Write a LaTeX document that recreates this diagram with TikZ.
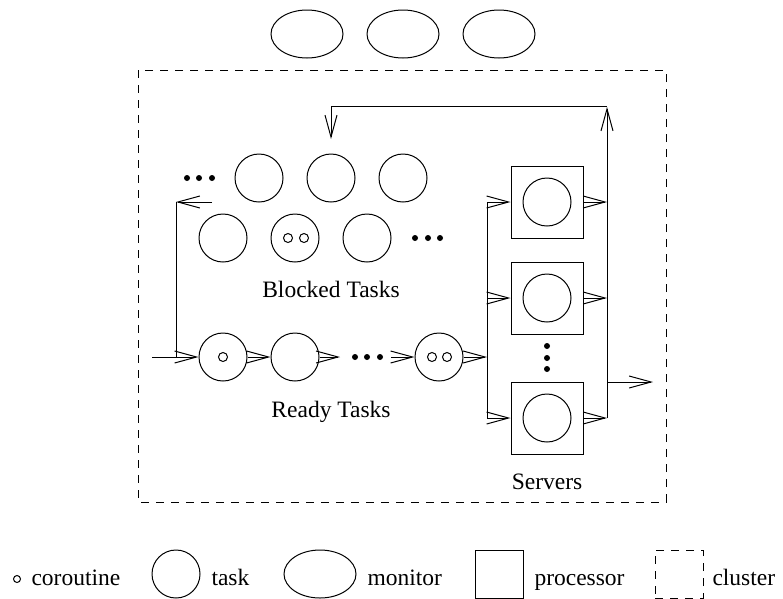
\documentclass[tikz,border=0pt]{standalone}
\usepackage{fontspec}
\setmainfont{Liberation Serif}
\usetikzlibrary{arrows.meta,shapes.geometric}
\begin{document}
\begin{tikzpicture}[x=1pt,y=-1pt,line width=1pt,
  every node/.style={font=\fontsize{23.5}{28}\selectfont},
  task/.style={circle,draw,minimum size=48pt,inner sep=0pt},
  corout/.style={circle,draw,minimum size=9pt,inner sep=0pt},
  monitor/.style={ellipse,draw,minimum width=72pt,minimum height=48pt,inner sep=0pt},
  procbox/.style={rectangle,draw,minimum size=72pt,inner sep=0pt},
  bigdot/.style={circle,fill,minimum size=6pt,inner sep=0pt},
  lbl/.style={inner sep=0pt},
  arr/.style={-{Straight Barb[length=22pt,width=12pt]}},
  cdash/.style={dash pattern=on 8pt off 7pt}
]
\useasboundingbox (0,0) rectangle (783,598);

% monitors
\node[monitor] (m1) at (307,34) {};
\node[monitor] (m2) at (403,34) {};
\node[monitor] (m3) at (499,34) {};

% cluster
\draw[cdash] (138,70) rectangle (666,502);

% blocked tasks
\node[task] (b1) at (259,178) {};
\node[task] (b2) at (331,178) {};
\node[task] (b3) at (403,178) {};
\node[bigdot] (bd1) at (187,178) {};
\node[bigdot] (bd2) at (199,178) {};
\node[bigdot] (bd3) at (212,178) {};
\node[task] (b4) at (223,238) {};
\node[task] (b5) at (295,238) {};
\node[corout] (b5a) at (288,238) {};
\node[corout] (b5b) at (304,238) {};
\node[task] (b6) at (367,238) {};
\node[bigdot] (bd4) at (415,238) {};
\node[bigdot] (bd5) at (428,238) {};
\node[bigdot] (bd6) at (440,238) {};
\node[lbl,anchor=base] (blk) at (331,297) {Blocked Tasks};

% ready tasks
\node[task] (r1) at (223,357) {};
\node[corout] (r1a) at (223,357) {};
\node[task] (r2) at (295,357) {};
\node[bigdot] (rd1) at (355,357) {};
\node[bigdot] (rd2) at (367,357) {};
\node[bigdot] (rd3) at (380,357) {};
\node[task] (r3) at (439,357) {};
\node[corout] (r3a) at (432,357) {};
\node[corout] (r3b) at (447,357) {};
\node[lbl,anchor=base] (rdy) at (331,417) {Ready Tasks};

% servers
\node[procbox] (s1) at (547,202) {};
\node[task] (c1) at (547,202) {};
\node[procbox] (s2) at (547,298) {};
\node[task] (c2) at (547,298) {};
\node[procbox] (s3) at (547,418) {};
\node[task] (c3) at (547,418) {};
\node[bigdot] (sd1) at (547,346) {};
\node[bigdot] (sd2) at (547,358) {};
\node[bigdot] (sd3) at (547,369) {};
\node[lbl,anchor=base] (srv) at (547,489) {Servers};

% coordinates
\coordinate (inL) at (152,357);
\coordinate (lj) at (176,357);
\coordinate (lt) at (176,202);
\coordinate (lb) at (212,202);
\coordinate (r2e) at (340,357);
\coordinate (r3w) at (391,357);
\coordinate (bj) at (487,357);
\coordinate (bt) at (487,202);
\coordinate (bm) at (487,298);
\coordinate (bb) at (487,418);
\coordinate (ot) at (607,202);
\coordinate (om) at (607,298);
\coordinate (ob) at (607,418);
\coordinate (oup) at (607,107);
\coordinate (otop) at (607,106);
\coordinate (tl) at (331,106);
\coordinate (tdn) at (331,139);
\coordinate (ex) at (607,382);
\coordinate (exend) at (653,382);

% connectors
\draw[arr] (inL) -- (r1.west);
\draw (lj) -- (lt);
\draw[arr] (lb) -- (lt);
\draw[arr] (r1) -- (r2);
\draw[arr] (r2.east) -- (r2e);
\draw[arr] (r3w) -- (r3.west);
\draw[arr] (r3.east) -- (bj);
\draw (bt) -- (bb);
\draw[arr] (bt) -- (s1.west);
\draw[arr] (bm) -- (s2.west);
\draw[arr] (bb) -- (s3.west);
\draw[arr] (s1.east) -- (ot);
\draw[arr] (s2.east) -- (om);
\draw[arr] (s3.east) -- (ob);
\draw[arr] (ob) -- (oup);
\draw[arr] (otop) -- (tl) -- (tdn);
\draw[arr] (ex) -- (exend);

% legend
\node[circle,draw,minimum size=7pt,inner sep=0pt] (lco) at (17,579) {};
\node[lbl,anchor=base west] (lcot) at (31,585) {coroutine};
\node[task] (ltask) at (176,574) {};
\node[lbl,anchor=base west] (ltaskt) at (211,585) {task};
\node[monitor] (lmon) at (320,574) {};
\node[lbl,anchor=base west] (lmont) at (367,585) {monitor};
\node[procbox,minimum size=48pt] (lproc) at (499,574) {};
\node[lbl,anchor=base west] (lproct) at (534,585) {processor};
\node[draw,cdash,minimum size=48pt,inner sep=0pt] (lclu) at (679,574) {};
\node[lbl,anchor=base west] (lclut) at (712,585) {cluster};
\end{tikzpicture}
\end{document}
